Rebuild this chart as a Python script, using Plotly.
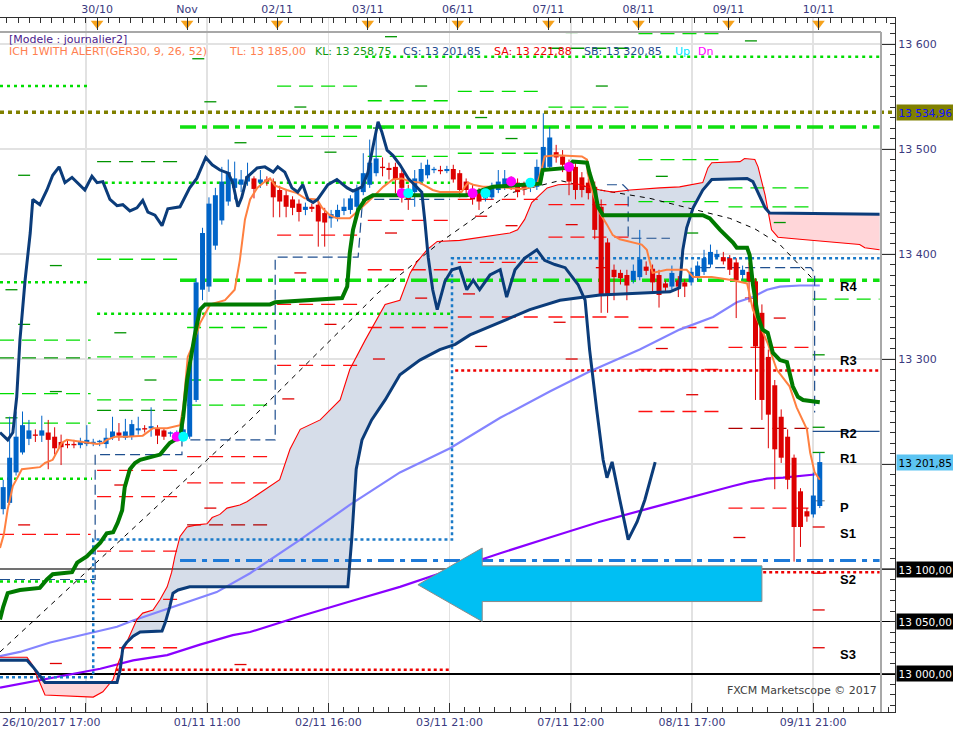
import plotly.graph_objects as go

# ======================= DATA =======================
# Hourly GER30 candles, bar index 0..127
bar_open = [13157,13163,13192,13211,13224,13228,13227,13230,13226,13221,
            13219,13219,13218,13219,13220,13221,13219,13225,13230,13225,
            13226,13232,13234,13234,13234,13232,13229,13228,13226,13226,
            13261,13366,13369,13408,13432,13450,13463,13466,13469,13472,
            13468,13471,13469,13461,13456,13452,13448,13442,13445,13447,
            13439,13434,13435,13441,13442,13445,13459,13466,13477,13483,
            13482,13483,13477,13461,13459,13469,13475,13480,13480,13479,
            13481,13477,13469,13462,13459,13453,13454,13461,13464,13471,
            13468,13465,13463,13464,13480,13483,13497,13493,13483,13483,
            13473,13468,13464,13445,13411,13385,13382,13380,13375,13378,
            13388,13386,13380,13372,13369,13375,13373,13373,13378,13383,
            13390,13397,13397,13396,13392,13380,13383,13374,13344,13302,
            13275,13245,13226,13206,13174,13155,13152,13160]
bar_high = [13185,13245,13250,13250,13242,13233,13246,13242,13235,13228,
            13223,13223,13225,13237,13224,13223,13234,13245,13239,13243,
            13242,13245,13237,13254,13237,13234,13231,13232,13237,13304,
            13377,13425,13454,13463,13483,13490,13488,13480,13487,13474,
            13480,13474,13472,13465,13461,13455,13452,13449,13448,13452,
            13444,13442,13447,13453,13456,13466,13496,13509,13518,13492,
            13487,13487,13482,13466,13480,13487,13490,13483,13484,13484,
            13485,13480,13472,13466,13463,13461,13468,13480,13480,13474,
            13472,13469,13472,13490,13534,13521,13504,13499,13490,13488,
            13478,13472,13469,13452,13415,13390,13385,13385,13390,13423,
            13393,13390,13385,13375,13389,13379,13376,13387,13393,13404,
            13409,13404,13402,13399,13396,13389,13392,13377,13352,13309,
            13280,13252,13233,13209,13177,13158,13192,13211]
bar_low = [13152,13161,13189,13209,13218,13221,13221,13195,13209,13199,
           13215,13215,13215,13217,13217,13217,13215,13223,13222,13223,
           13223,13228,13230,13226,13219,13223,13226,13225,13223,13224,
           13259,13356,13364,13404,13428,13446,13452,13459,13465,13453,
           13463,13465,13435,13435,13435,13437,13431,13437,13440,13407,
           13407,13425,13431,13437,13438,13442,13456,13463,13474,13474,
           13471,13458,13449,13442,13445,13466,13472,13477,13476,13477,
           13468,13454,13456,13447,13442,13450,13452,13458,13461,13461,
           13454,13456,13459,13461,13475,13480,13487,13478,13456,13452,
           13454,13452,13414,13344,13344,13356,13371,13356,13372,13375,
           13380,13363,13349,13364,13366,13359,13359,13370,13375,13380,
           13387,13395,13390,13380,13339,13375,13354,13261,13242,13215,
           13176,13201,13176,13107,13121,13145,13149,13158]
bar_close = [13178,13206,13226,13237,13232,13227,13232,13223,13215,13216,
             13218,13218,13222,13223,13221,13222,13225,13231,13227,13231,
             13238,13234,13233,13236,13227,13226,13230,13229,13233,13297,
             13373,13420,13448,13456,13469,13478,13472,13471,13474,13462,
             13471,13469,13454,13450,13445,13444,13440,13445,13443,13431,
             13430,13438,13442,13445,13453,13461,13477,13487,13491,13482,
             13480,13471,13463,13452,13472,13481,13485,13481,13479,13481,
             13471,13461,13461,13452,13450,13457,13464,13469,13472,13467,
             13459,13463,13468,13483,13502,13511,13492,13485,13469,13461,
             13461,13458,13423,13361,13361,13378,13377,13370,13384,13395,
             13384,13373,13361,13368,13382,13369,13369,13383,13389,13396,
             13402,13400,13393,13385,13375,13385,13374,13312,13261,13247,
             13214,13206,13185,13140,13140,13150,13170,13201.85]

# Ichimoku lines (bar index, price)
tenkan_x = [-0.5,0.1,0.7,1.5,2.3,2.9,5.7,6.5,7.7,8.4,9.1,9.9,11.9,14.6,15.5,16.1,17.4,19.2,21.7,23.3,
            25.5,27.5,28.0,28.7,29.4,30.6,32.2,34.5,36.0,36.8,37.6,38.4,39.5,40.7,41.5,42.3,44.1,45.7,46.9,48.8,
            49.6,50.8,51.9,53.9,55.0,56.3,57.8,59.1,60.6,62.0,63.3,64.8,65.9,66.8,67.9,71.3,71.8,72.3,73.1,74.6,
            76.5,80.4,81.9,83.0,83.8,84.2,86.1,90.0,90.8,90.9,91.7,92.8,93.9,94.8,95.9,99.3,100.1,100.6,101.0,103.2,
            106.3,107.3,110.2,113.5,115.7,116.6,117.7,118.9,120.3,122.3,123.4,125.0,125.5,126.2,127.0]
tenkan_y = [13120,13133,13157,13179,13188,13195,13197,13201,13204,13212,13220,13223,13221,13219,13220,13223,13226,13226,13227,13234,
            13234,13237,13254,13302,13312,13334,13352,13356,13366,13394,13433,13452,13463,13469,13472,13465,13461,13458,13453,13452,
            13444,13437,13434,13434,13440,13447,13456,13464,13471,13472,13469,13468,13464,13461,13459,13459,13464,13468,13466,13464,
            13464,13462,13463,13466,13482,13493,13494,13493,13490,13477,13458,13439,13428,13418,13414,13409,13404,13392,13382,13385,
            13385,13378,13378,13375,13372,13347,13331,13315,13290,13274,13254,13233,13211,13192,13185]
kijun_x = [-0.5,0.0,0.7,2.6,5.7,6.8,7.7,10.7,11.5,13.0,15.1,16.1,17.1,17.8,18.5,18.9,19.7,20.5,21.3,23.3,
           24.4,25.2,25.9,26.7,27.5,28.0,28.6,29.8,30.6,31.4,41.5,42.3,48.9,52.7,53.5,53.9,54.4,55.2,56.3,57.5,
           72.1,76.2,83.5,83.9,87.7,88.6,90.8,91.2,92.0,92.5,93.3,108.8,109.9,111.5,113.5,114.1,115.7,116.1,116.6,117.4,
           118.1,118.9,119.7,120.8,121.9,122.8,123.6,124.4,127.0]
kijun_y = [13052,13064,13077,13080,13082,13090,13095,13097,13106,13112,13125,13134,13135,13144,13156,13178,13195,13201,13204,13207,
           13209,13215,13220,13223,13226,13245,13280,13323,13347,13352,13352,13354,13357,13358,13369,13401,13423,13442,13452,13456,
           13456,13464,13467,13480,13482,13488,13487,13477,13461,13445,13437,13437,13434,13423,13411,13406,13406,13399,13371,13340,
           13328,13325,13306,13299,13297,13274,13264,13261,13258.75]
chikou_x = [-0.5,0.7,1.5,2.1,2.6,3.4,4.2,4.6,5.7,6.8,7.7,8.7,9.6,10.7,12.7,13.8,14.6,15.5,16.6,17.7,
            18.6,19.7,20.8,21.7,22.5,23.6,24.7,25.6,27.5,29.0,30.1,31.5,32.5,33.7,35.0,35.7,36.5,37.1,37.9,39.5,
            40.7,42.0,42.7,43.8,44.9,45.8,46.6,47.4,48.2,48.9,50.5,51.9,53.5,54.4,55.8,56.7,57.5,58.3,58.9,59.7,
            60.6,61.7,63.0,64.3,65.1,65.6,66.1,66.8,67.5,68.7,69.8,71.0,72.1,73.1,74.1,75.7,77.3,78.3,79.6,81.1,
            83.0,84.2,85.8,87.4,89.4,90.5,91.2,92.3,93.3,93.9,94.7,95.9,97.2,98.6,99.8,101.4]
chikou_y = [13230,13223,13230,13264,13318,13375,13420,13452,13447,13461,13475,13483,13468,13473,13461,13474,13468,13469,13452,13446,
            13447,13441,13444,13451,13440,13437,13427,13443,13445,13463,13472,13492,13485,13480,13477,13468,13445,13454,13473,13482,
            13483,13478,13483,13478,13463,13459,13466,13452,13449,13452,13466,13471,13463,13460,13464,13477,13502,13526,13516,13499,
            13494,13485,13472,13464,13459,13430,13397,13366,13347,13374,13385,13387,13366,13375,13366,13380,13385,13359,13385,13396,
            13404,13394,13390,13387,13371,13356,13309,13252,13204,13187,13202,13166,13128,13145,13166,13201.85]
senkou_a_x = [-0.5,3.7,4.5,5.3,6.5,14.0,15.5,17.1,17.8,18.9,19.7,20.8,21.7,23.3,24.4,25.5,26.2,26.7,27.5,28.6,
              30.1,31.7,32.5,33.7,34.8,36.8,37.9,40.7,43.0,44.6,46.2,49.3,52.4,53.9,56.3,59.4,61.7,63.3,64.3,65.9,
              67.5,71.0,74.1,78.8,80.0,81.1,82.2,83.0,84.6,86.3,89.2,90.8,92.8,94.8,97.5,102.1,105.2,108.8,109.6,110.2,
              114.6,115.3,116.9,117.4,118.5,119.5,120.5,123.9,133.2,134.0,136.3]
senkou_a_y = [13016,13016,13009,12997,12980,12978,12983,12995,13009,13026,13037,13052,13058,13061,13071,13083,13097,13112,13131,13140,
              13142,13143,13149,13152,13158,13161,13164,13176,13185,13214,13233,13242,13261,13290,13318,13352,13356,13382,13392,13404,
              13412,13413,13416,13420,13423,13433,13449,13454,13463,13466,13467,13464,13461,13459,13461,13463,13464,13468,13482,13487,
              13488,13491,13490,13483,13456,13423,13416,13414,13409,13406,13404]
senkou_b_x = [-0.5,3.7,4.6,6.5,17.7,18.2,18.6,19.2,20.2,21.3,24.7,25.2,25.9,26.4,27.2,29.0,53.6,54.2,54.9,55.8,
              57.3,59.4,61.7,64.8,67.9,70.3,72.6,77.3,81.9,86.6,90.5,92.8,103.7,105.2,105.7,106.3,107.3,108.8,110.2,115.7,
              116.6,117.4,118.5,119.2,136.3]
senkou_b_y = [13013,13013,13007,12992,12992,13004,13025,13030,13036,13040,13041,13049,13064,13077,13080,13083,13083,13128,13195,13223,
              13242,13261,13285,13299,13309,13314,13323,13335,13347,13356,13359,13361,13364,13368,13404,13425,13444,13461,13471,13472,
              13469,13458,13444,13439,13438]
bear_cloud_spans = [(3.7, 18.2), (118.5, 136.3)]

# Moving averages
ma_fast_x = [-0.5,2.6,7.3,12.4,17.7,20.2,27.5,33.2,38.4,46.2,53.9,61.7,69.5,77.3,85.0,91.2,99.0,105.2,110.4,114.1,116.6,118.8,120.8,123.9,127.0]
ma_fast_y = [13017,13021,13030,13037,13045,13051,13066,13078,13096,13128,13161,13192,13215,13244,13269,13288,13309,13328,13340,13354,13359,13366,13369,13370,13370]
ma_slow_x = [-0.5,4.6,9.9,15.1,20.2,25.5,30.6,35.7,38.4,46.2,53.9,61.7,69.5,77.3,85.0,92.8,100.6,108.4,113.5,116.1,118.8,121.3,126.2]
ma_slow_y = [12987,12993,12999,13005,13013,13018,13028,13037,13040,13055,13069,13083,13099,13115,13130,13145,13158,13171,13179,13183,13186,13187,13190]
ma_long_x = [-0.5,38.4,58.3,67.9,78.8,86.6,92.8,100.6,108.4,113.0,116.9,120.8,123.9,125.8]
ma_long_y = [13021,13242,13363,13411,13458,13470,13461,13453,13441,13434,13424,13409,13389,13377]

# Stop lines
stop_dot_x = [-0.5,14.0,14.0,69.8,69.8,136.3]
stop_dot_y = [12997,12997,13128,13128,13396,13396]
stop_dash_x = [-0.5,14.3,14.3,27.8,27.8,42.3,42.3,55.2,55.9,69.5,None,93.9,96.4,97.2,97.2,103.7,None,108.4,125.6,126.2,126.2]
stop_dash_y = [13090,13090,13209,13209,13223,13223,13397,13397,13452,13452,None,13466,13466,13461,13415,13415,None,13387,13387,13382,13249]

# Signals
sig_dn_x = [27, 62, 73, 79, 88]
sig_dn_y = [13226, 13458, 13458, 13469, 13483]
sig_up_x = [28, 63, 75, 82]
sig_up_y = [13226, 13458, 13458, 13468]

# Horizontal levels (price, first bar, last bar)
level_marked = 13534.96
round_levels = [13100, 13050, 13000]
green_dashdot_levels = [(13521, 27.5, 136.3), (13375, 27.5, 136.3)]
blue_dashdot_levels = [(13108, 27.5, 136.3)]
green_dotted_levels = [(13588, 56.3, 136.3), (13560, -0.5, 13.5), (13468, 15.8, 69.5), (13373, -0.5, 13.5),
                       (13343, 14.6, 69.5), (13186, -0.5, 13.8), (13088, -0.5, 13.8)]
red_dotted_levels = [(13289, 70.3, 136.3), (13004, 17.5, 69.5), (13097, 118.2, 136.3)]
r2_level = [(13231, 125.9, 136.3)]

# Daily pivot dashes: (day, price)
pivot_day_start = [-0.5, 14.6, 28.6, 42.6, 56.7, 70.7, 84.8, 98.8, 112.8, 125.9]
pivot_day_end = [13.6, 28.0, 42.0, 56.0, 70.1, 84.2, 98.2, 112.3, 125.6, 136.3]
piv_green_long = [(0,13318),(0,13267),(0,13239),(1,13395),(1,13302),(1,13261),(2,13330),(2,13280),(2,13256),
                  (3,13560),(3,13512),(4,13546),(4,13493),(5,13555),(5,13496),(6,13540),(7,13610),(7,13490),
                  (7,13450),(8,13463),(8,13445),(9,13357)]
piv_dkgreen_long = [(0,13301),(1,13488),(1,13251),(6,13596)]
piv_green_short = [(0,13475),(0,13389),(0,13366),(0,13333),(0,13269),(0,13244),(1,13325),(1,13280),(2,13545),
                   (2,13506),(2,13586),(3,13540),(3,13497),(4,13607),(4,13560),(4,13520),(5,13530),(5,13510),
                   (6,13611),(6,13560),(7,13474),(7,13420),(8,13603),(8,13430),(9,13304),(9,13235),(9,13211)]
piv_red_long = [(0,13133),(1,13194),(1,13169),(1,13117),(1,13071),(1,13025),(2,13207),(2,13182),(3,13418),
                (3,13352),(3,13294),(4,13432),(4,13385),(4,13330),(5,13452),(5,13392),(5,13340),(6,13447),
                (6,13416),(6,13340),(7,13330),(7,13290),(7,13250),(8,13311),(8,13158)]
piv_dkred_long = [(2,13142),(8,13234)]
piv_red_short = [(0,13142),(0,13010),(1,13180),(2,13158),(2,13009),(3,13382),(3,13333),(3,13262),(4,13420),
                 (4,13358),(4,13300),(5,13436),(5,13427),(5,13362),(5,13312),(6,13428),(6,13387),(6,13335),
                 (6,13300),(7,13310),(7,13266),(8,13358),(8,13339),(8,13130),(9,13140),(9,13096),(9,13025),(9,13061)]
piv_pivot = [(9,13165)]

# Texts
pivot_names = ["R4", "R3", "R2", "R1", "P", "S1", "S2", "S3"]
pivot_name_prices = [13369, 13299, 13229, 13205, 13159, 13134, 13090, 13019]
top_tick_bars = [14.6, 28.6, 42.6, 56.7, 70.7, 84.8, 98.8, 112.8, 126.8]
top_tick_labels = ["30/10", "Nov", "02/11", "03/11", "06/11", "07/11", "08/11", "09/11", "10/11"]
bottom_tick_bars = [12.87, 31.72, 50.57, 69.42, 88.27, 107.12, 125.97]
bottom_tick_labels = ["26/10/2017 17:00", "01/11 11:00", "02/11 16:00", "03/11 21:00", "07/11 12:00", "08/11 17:00", "09/11 21:00"]
price_ticks = [13000, 13100, 13200, 13300, 13400, 13500, 13600]
price_tick_labels = ["", "", "", "13 300", "13 400", "13 500", "13 600"]
boxed_prices = [13534.96, 13201.85, 13100, 13050, 13000]
boxed_texts = ["13 534,96", "13 201,85", "13 100,00", "13 050,00", "13 000,00"]
header_line1 = "[Modele : journalier2]"
header_line2 = ["ICH 1WITH ALERT(GER30, 9, 26, 52)", "TL: 13 185,00", "KL: 13 258,75", "CS: 13 201,85",
                "SA: 13 221,88", "SB: 13 320,85", "Up", "Dn"]
footer_text = "FXCM Marketscope \u00a9 2017"

# ======================= FIGURE =======================
W, H = 953, 736
ML, MR, MT, MB = 0, 58, 18, 24
PW, PH = W - ML - MR, H - MT - MB
X_RANGE = [-0.5, 138.7]
Y_RANGE = [12963.8, 13624.8]
FONT = "DejaVu Sans"
AXIS_TXT = "#3a3a80"


def px_x(px):
    return px / PW


def px_y(py):
    return (H - MB - py) / PH


fig = go.Figure()


def add_lines(x, y, color, width, dash="solid", xaxis="x"):
    fig.add_trace(go.Scatter(x=x, y=y, mode="lines", xaxis=xaxis, yaxis="y",
                             line=dict(color=color, width=width, dash=dash),
                             hoverinfo="skip", showlegend=False))


def hsegs(items):
    xs, ys = [], []
    for p, a, b in items:
        xs += [a, b, None]
        ys += [p, p, None]
    return xs, ys


def pivot_segs(items, short):
    xs, ys = [], []
    count = {}
    for d, p in items:
        s, e = pivot_day_start[d], pivot_day_end[d]
        w = e - s
        if short:
            k = count.get(d, 0)
            count[d] = k + 1
            if d == 9:
                f0, f1 = 0.0, 0.21
            else:
                f0, f1 = [(0.2, 0.38), (0.55, 0.73), (0.06, 0.24)][k % 3]
            a, b = s + f0 * w, s + f1 * w
        else:
            a, b = s, e
        xs += [a, b, None]
        ys += [p, p, None]
    return xs, ys


# --- cloud fills ---
fig.add_trace(go.Scatter(x=senkou_b_x, y=senkou_b_y, mode="lines", line=dict(width=0, color="rgba(0,0,0,0)"),
                         hoverinfo="skip", showlegend=False))
fig.add_trace(go.Scatter(x=senkou_a_x, y=senkou_a_y, mode="lines", line=dict(width=0, color="rgba(0,0,0,0)"),
                         fill="tonexty", fillcolor="#d6dde9", hoverinfo="skip", showlegend=False))
for x0, x1 in bear_cloud_spans:
    ax = [x for x in senkou_a_x if x0 <= x <= x1]
    ay = [y for x, y in zip(senkou_a_x, senkou_a_y) if x0 <= x <= x1]
    bx = [x for x in senkou_b_x if x0 <= x <= x1]
    by = [y for x, y in zip(senkou_b_x, senkou_b_y) if x0 <= x <= x1]
    fig.add_trace(go.Scatter(x=ax + bx[::-1], y=ay + by[::-1], mode="lines", fill="toself",
                             fillcolor="#ffd6d9", line=dict(width=0, color="rgba(0,0,0,0)"),
                             hoverinfo="skip", showlegend=False))

# --- daily pivot dashes ---
x, y = pivot_segs(piv_green_long, False); add_lines(x, y, "#00dd00", 1.3, "14px,8px")
x, y = pivot_segs(piv_dkgreen_long, False); add_lines(x, y, "#009400", 1.3, "14px,8px")
x, y = pivot_segs(piv_green_short, True); add_lines(x, y, "#009400", 1.3, "12px,6px,4px,300px")
x, y = pivot_segs(piv_red_long, False); add_lines(x, y, "#ff1010", 1.3, "14px,8px")
x, y = pivot_segs(piv_dkred_long, False); add_lines(x, y, "#b00000", 1.3, "14px,8px")
x, y = pivot_segs(piv_red_short, True); add_lines(x, y, "#e00000", 1.3, "12px,6px,4px,300px")
x, y = pivot_segs(piv_pivot, True); add_lines(x, y, "#909090", 1.3, "12px,6px,4px,300px")

# --- horizontal levels ---
x, y = hsegs([(p, X_RANGE[0], X_RANGE[1]) for p in round_levels[:2]]); add_lines(x, y, "#000000", 1)
x, y = hsegs([(round_levels[2], X_RANGE[0], X_RANGE[1])]); add_lines(x, y, "#000000", 2)
x, y = hsegs(green_dotted_levels); add_lines(x, y, "#00dd00", 2.5, "3px,4px")
x, y = hsegs(red_dotted_levels); add_lines(x, y, "#ee0000", 2.5, "3px,3px")
x, y = hsegs(green_dashdot_levels); add_lines(x, y, "#10e010", 3.5, "16px,6px,5px,6px")
x, y = hsegs(blue_dashdot_levels); add_lines(x, y, "#1e7ad8", 3, "16px,6px,5px,6px")
x, y = hsegs([(level_marked, X_RANGE[0], X_RANGE[1])]); add_lines(x, y, "#808000", 3.5, "4px,4px")
x, y = hsegs(r2_level); add_lines(x, y, "#1f4f8f", 1.3)

# --- moving averages ---
add_lines(ma_slow_x, ma_slow_y, "#8a00ff", 2.2)
add_lines(ma_fast_x, ma_fast_y, "#8484ff", 2.2)
add_lines(ma_long_x, ma_long_y, "#000000", 1, "5px,5px")

# --- stop lines ---
add_lines(stop_dot_x, stop_dot_y, "#1a7ac8", 2.5, "3px,3px")
add_lines(stop_dash_x, stop_dash_y, "#1f4f8f", 1.2, "10px,5px")

# --- candles ---
UP, DN = "#0064c8", "#dd0000"
wick = {UP: ([], []), DN: ([], [])}
body = {UP: ([], []), DN: ([], [])}
for i, (o, h, l, c) in enumerate(zip(bar_open, bar_high, bar_low, bar_close)):
    col = UP if c >= o else DN
    lo, hi = min(o, c), max(o, c)
    if hi - lo < 1.3:
        m = (hi + lo) / 2
        lo, hi = m - 0.65, m + 0.65
    wick[col][0].extend([i, i, None]); wick[col][1].extend([l, h, None])
    body[col][0].extend([i, i, None]); body[col][1].extend([lo, hi, None])
for col in (UP, DN):
    add_lines(wick[col][0], wick[col][1], col, 1)
    add_lines(body[col][0], body[col][1], col, 5)

# --- ichimoku lines ---
add_lines(senkou_a_x, senkou_a_y, "#ff0000", 1.1)
add_lines(senkou_b_x, senkou_b_y, "#0b3c7a", 3)
add_lines(tenkan_x, tenkan_y, "#ff8040", 2)
add_lines(kijun_x, kijun_y, "#007a00", 4)
add_lines(chikou_x, chikou_y, "#0b3c7a", 3)

# --- signals ---
fig.add_trace(go.Scatter(x=sig_dn_x, y=sig_dn_y, mode="markers", marker=dict(color="#ff00ff", size=10),
                         hoverinfo="skip", showlegend=False))
fig.add_trace(go.Scatter(x=sig_up_x, y=sig_up_y, mode="markers", marker=dict(color="#00ffff", size=10),
                         hoverinfo="skip", showlegend=False))

# --- top axis day markers ---
fig.add_trace(go.Scatter(x=top_tick_bars, y=[13619.5] * len(top_tick_bars), xaxis="x2", yaxis="y",
                         mode="markers", marker=dict(symbol="triangle-down", size=11, color="#f6a21c"),
                         hoverinfo="skip", showlegend=False, cliponaxis=False))

# ======================= ANNOTATIONS =======================
ann = []
# header
ann.append(dict(text=header_line1, x=px_x(8), y=px_y(39.5), xref="paper", yref="paper", xanchor="left",
                yanchor="middle", showarrow=False, borderpad=0,
                font=dict(family=FONT, size=11, color="#4b1a8c")))
h2_px = [8, 228, 314, 402, 493, 583, 674, 697]
h2_col = ["#ff7f50", "#ff7f50", "#119911", "#1e4b8f", "#ee0000", "#1e4b8f", "#00e5ff", "#ff00ff"]
for t, p, c in zip(header_line2, h2_px, h2_col):
    ann.append(dict(text=t, x=px_x(p), y=px_y(52), xref="paper", yref="paper", xanchor="left",
                    yanchor="middle", showarrow=False, borderpad=0,
                    font=dict(family=FONT, size=11, color=c)))
# footer
ann.append(dict(text=footer_text, x=px_x(725), y=px_y(690), xref="paper", yref="paper", xanchor="left",
                yanchor="middle", showarrow=False, font=dict(family=FONT, size=11, color="#404040")))
# first bottom label
ann.append(dict(text=bottom_tick_labels[0], x=X_RANGE[0], y=px_y(722), xref="x", yref="paper",
                xanchor="left", yanchor="middle", showarrow=False,
                font=dict(family=FONT, size=11, color=AXIS_TXT)))
# pivot names
for t, p in zip(pivot_names, pivot_name_prices):
    ann.append(dict(text="<b>" + t + "</b>", x=129.8, y=p, xref="x", yref="y", xanchor="left",
                    yanchor="middle", showarrow=False,
                    font=dict(family="Liberation Sans", size=13, color="#000000")))
# boxed price labels
box_bg = ["#808000", "#5cc4f2", "#000000", "#000000", "#000000"]
box_fg = ["#1010ff", "#000000", "#ffffff", "#ffffff", "#ffffff"]
for p, t, bg, fg in zip(boxed_prices, boxed_texts, box_bg, box_fg):
    ann.append(dict(text=t, x=px_x(896), y=p, xref="paper", yref="y", xanchor="left", yanchor="middle",
                    showarrow=False, bgcolor=bg, borderpad=1.5,
                    font=dict(family=FONT, size=10.5, color=fg)))

shapes = [
    # cyan arrow
    dict(type="path", xref="x", yref="y", layer="above",
         path="M 64.5,13085 L 74.5,13120 L 74.5,13103 L 118,13103 L 118,13069 L 74.5,13069 L 74.5,13050 Z",
         fillcolor="#00bff3", line=dict(color="#8a8a8a", width=1)),
    # inner frame
    dict(type="line", xref="paper", yref="paper", x0=0, x1=px_x(881), y0=px_y(32), y1=px_y(32),
         line=dict(color="#a8a8a8", width=2), layer="above"),
    dict(type="line", xref="paper", yref="paper", x0=px_x(881), x1=px_x(881), y0=0, y1=px_y(32),
         line=dict(color="#a8a8a8", width=2), layer="above"),
]

fig.update_layout(
    template="none",
    width=W, height=H,
    margin=dict(l=ML, r=MR, t=MT, b=MB, pad=0),
    paper_bgcolor="white", plot_bgcolor="white",
    showlegend=False,
    font=dict(family=FONT, size=11, color=AXIS_TXT),
    annotations=ann,
    shapes=shapes,
    xaxis=dict(range=X_RANGE, tickmode="array", tickvals=bottom_tick_bars,
               ticktext=[""] + bottom_tick_labels[1:], ticks="inside", ticklen=9, tickwidth=1,
               tickcolor="#303030", showgrid=True, gridcolor="#e2e2e2", gridwidth=1.5,
               showline=True, linecolor="#303030", linewidth=1, zeroline=False, automargin=False,
               tickfont=dict(family=FONT, size=11, color=AXIS_TXT),
               minor=dict(tickmode="linear", tick0=12.87, dtick=2.356, ticks="inside", ticklen=5,
                          tickcolor="#303030", showgrid=False)),
    xaxis2=dict(range=X_RANGE, overlaying="x", side="top", anchor="y", tickmode="array",
                tickvals=top_tick_bars, ticktext=top_tick_labels, ticks="inside", ticklen=12,
                tickcolor="#303030", showgrid=False, showline=True, linecolor="#303030", linewidth=1,
                zeroline=False, automargin=False,
                tickfont=dict(family=FONT, size=11, color=AXIS_TXT),
                minor=dict(tickmode="linear", tick0=14.6, dtick=1.754, ticks="inside", ticklen=5,
                           tickcolor="#303030", showgrid=False)),
    yaxis=dict(range=Y_RANGE, side="right", tickmode="array", tickvals=price_ticks,
               ticktext=price_tick_labels, ticks="inside", ticklen=14, tickcolor="#303030",
               showgrid=True, gridcolor="#e2e2e2", gridwidth=1.5, showline=True, linecolor="#303030",
               linewidth=1, zeroline=False, automargin=False,
               tickfont=dict(family=FONT, size=11, color=AXIS_TXT),
               minor=dict(tickmode="linear", tick0=13000, dtick=10, ticks="inside", ticklen=5,
                          tickcolor="#303030", showgrid=False)),
)

fig.write_html("out.html",
               config={"displayModeBar": False, "staticPlot": True},
               post_script="document.body.style.margin='0px';document.body.style.padding='0px';")
